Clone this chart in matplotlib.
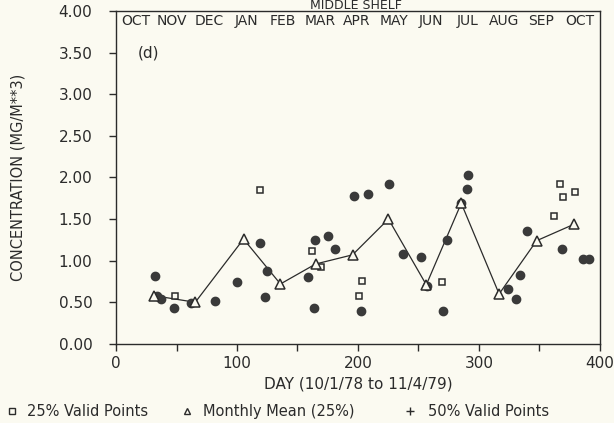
import matplotlib
matplotlib.use("Agg")
import matplotlib.pyplot as plt
from matplotlib.lines import Line2D

# 25% valid points (open squares)
day25 = [49, 118.6, 162.2, 169.4, 201, 203.2, 269.4, 362.3, 367, 369.5, 379.4]
conc25 = [0.58, 1.85, 1.12, 0.92, 0.57, 0.76, 0.74, 1.54, 1.92, 1.77, 1.82]

# monthly mean of the 25% points (open triangles joined by a line)
day_mean = [31.2, 65.5, 105.4, 135.9, 165, 195.5, 225.2, 256.5, 285.4, 316.7, 347.7, 379]
conc_mean = [0.58, 0.50, 1.26, 0.72, 0.96, 1.07, 1.50, 0.71, 1.69, 0.60, 1.24, 1.44]

# 50% valid points (filled dots)
day50 = [32, 34, 37, 48.2, 62, 82, 99.6, 119.4, 123.5, 124.6, 158.4, 163.6, 164.5,
         175.4, 181.2, 196.6, 202.1, 207.9, 225.7, 237, 252.4, 257.4, 270.6, 273.9,
         285.4, 290.4, 291.2, 324.4, 330.4, 334.3, 339.8, 368.3, 385.7, 390.6]
conc50 = [0.81, 0.57, 0.54, 0.43, 0.49, 0.52, 0.74, 1.21, 0.56, 0.88, 0.80, 0.43, 1.25,
          1.30, 1.14, 1.78, 0.39, 1.80, 1.92, 1.08, 1.04, 0.70, 0.39, 1.25,
          1.69, 1.86, 2.03, 0.66, 0.54, 0.83, 1.36, 1.14, 1.02, 1.02]

months = ["OCT", "NOV", "DEC", "JAN", "FEB", "MAR", "APR", "MAY", "JUN", "JUL",
          "AUG", "SEP", "OCT"]
month_mid = [16, 46.5, 77, 107.5, 138, 168.5, 199, 229.5, 260, 290.5, 321, 351.5, 383]

ink = "#2b2b2b"
paper = "#fbfaf1"

fig = plt.figure(figsize=(6.14, 4.23), dpi=100, facecolor=paper)
ax = fig.add_axes([0.189, 0.187, 0.788, 0.787])
ax.set_facecolor(paper)

ax.plot(day_mean, conc_mean, color=ink, lw=0.9, zorder=2)
ax.plot(day_mean, conc_mean, ls="none", marker="^", ms=6.5, mfc=paper, mec=ink,
        mew=1.1, zorder=4)
ax.plot(day25, conc25, ls="none", marker="s", ms=5, mfc=paper, mec=ink,
        mew=1.1, zorder=3)
ax.plot(day50, conc50, ls="none", marker="o", ms=6, mfc="#3a3a3a", mec="#3a3a3a",
        zorder=3)

ax.set_xlim(0, 400)
ax.set_ylim(0, 4)
ax.set_xticks(range(0, 401, 50))
ax.set_xticklabels(["0", "", "100", "", "200", "", "300", "", "400"])
ax.set_yticks([i * 0.5 for i in range(9)])
ax.set_yticklabels(["%.2f" % (i * 0.5) for i in range(9)])
ax.tick_params(direction="out", length=5, width=1, colors=ink, labelsize=11,
               pad=4)
ax.tick_params(axis="y", pad=12)
for s in ax.spines.values():
    s.set_color(ink)
    s.set_linewidth(1.0)

for m, d in zip(months, month_mid):
    ax.text(d, 3.88, m, ha="center", va="center", fontsize=10, color=ink)
ax.text(27, 3.49, "(d)", ha="center", va="center", fontsize=11, color=ink)

ax.set_xlabel("DAY (10/1/78 to 11/4/79)", fontsize=11, color=ink, labelpad=4)
ax.set_ylabel("CONCENTRATION (MG/M**3)", fontsize=10.5, color=ink, labelpad=24)
fig.text(0.58, 1 - 9 / 423, "MIDDLE SHELF", ha="center", va="baseline",
         fontsize=9, color=ink)

# legend row along the bottom
ly = 1 - 411 / 423
fig.add_artist(Line2D([12 / 614], [ly], marker="s", ms=4.5, mfc=paper, mec=ink,
                      mew=1, transform=fig.transFigure))
fig.text(27 / 614, ly, "25% Valid Points", va="center", fontsize=10.5, color=ink)
fig.add_artist(Line2D([187 / 614], [ly], marker="^", ms=5, mfc=paper, mec=ink,
                      mew=1, transform=fig.transFigure))
fig.text(203 / 614, ly, "Monthly Mean (25%)", va="center", fontsize=10.5, color=ink)
fig.add_artist(Line2D([410 / 614], [ly], marker="+", ms=6, color=ink, mew=1,
                      transform=fig.transFigure))
fig.text(428 / 614, ly, "50% Valid Points", va="center", fontsize=10.5, color=ink)

fig.savefig("out.png", dpi=100, facecolor=paper)
